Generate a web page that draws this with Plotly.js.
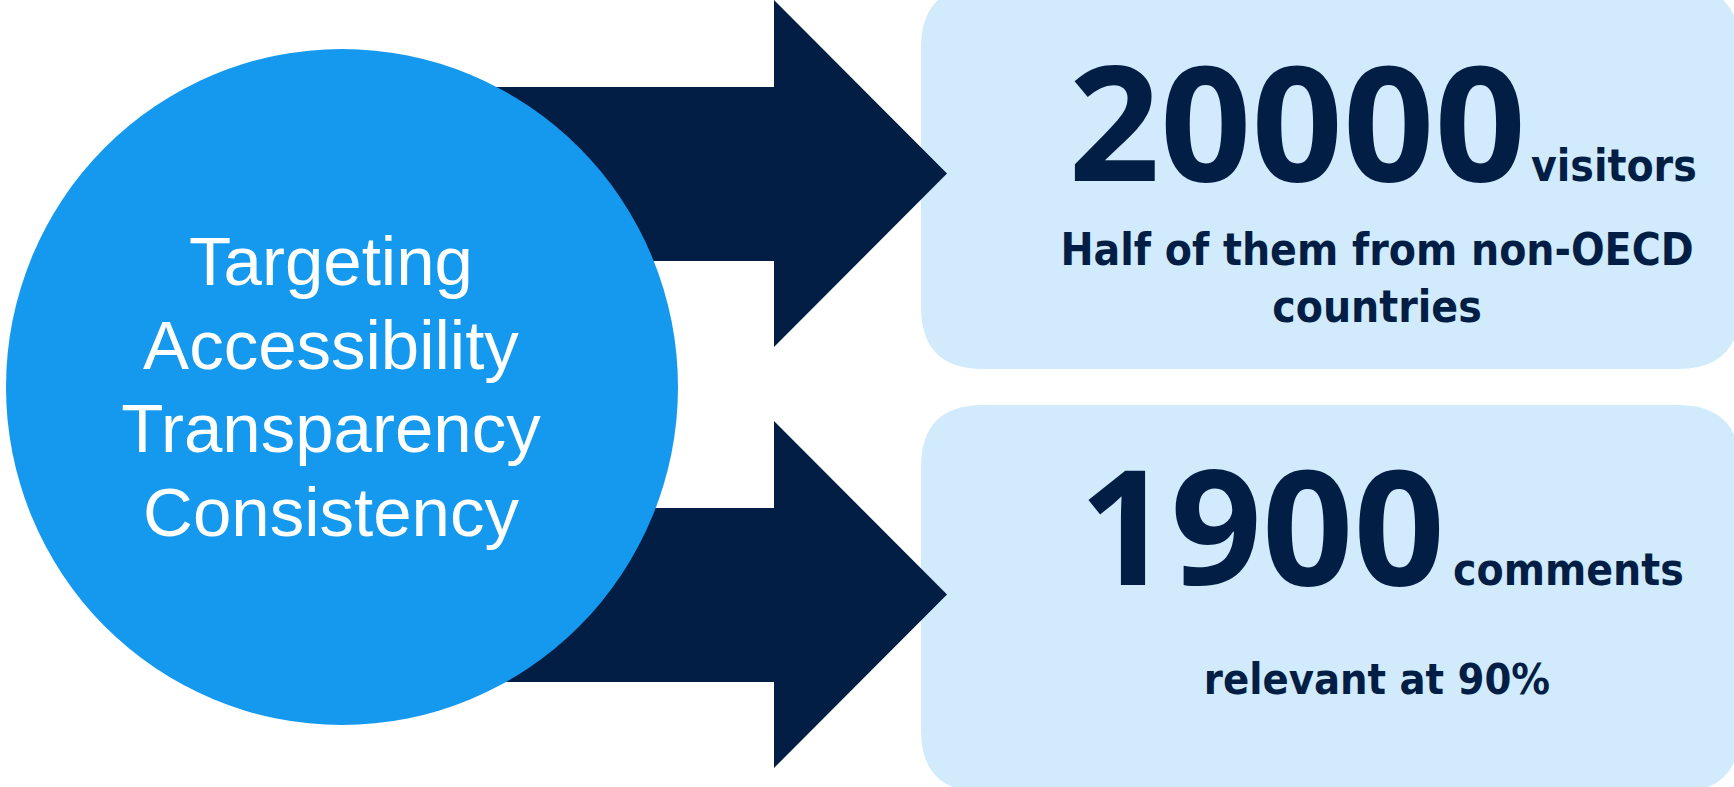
<!DOCTYPE html>
<html>
<head>
<meta charset="utf-8">
<script src="https://cdn.plot.ly/plotly-3.0.1.min.js"></script>
<style>
  html, body { margin: 0; padding: 0; background: #ffffff; overflow: hidden; }
  #chart { width: 1734px; height: 787px; }
</style>
</head>
<body>
<div id="chart"></div>
<script>
// ---- data ----
const pillars = ["Targeting", "Accessibility", "Transparency", "Consistency"];
const statValues = [20000, 1900];
const statUnits = ["visitors", "comments"];
const statNotes = [["Half of them from non-OECD", "countries"], ["relevant at 90%"]];

// ---- styling / layout (pixel space) ----
const W = 1734, H = 787;
const NAVY = "#021E44";
const BLUE = "#1599EE";
const PALE = "#D1EBFC";
const NUM_FONT = "Noto Sans, DejaVu Sans, sans-serif";
const STAT_FONT = "DejaVu Sans Condensed, DejaVu Sans, sans-serif";
const PILLAR_FONT = "Liberation Sans, Arial, sans-serif";

const pillarX = 331, pillarBase0 = 285, pillarPitch = 83.7, pillarSize = 69;
const rowTop = [0, 421];               // arrow head top per row
const statBase = [181, 585];
const numRight = [1526, 1445];
const unitLeft = [1531, 1453];
const noteX = 1377;
const noteBase = [[265, 322], [694]];
const numSize = 160, unitSize = 44, noteSize = [44, 43];

// baseline -> y for 'middle' textposition (baseline = y + 0.25*size)
const yFor = (base, size) => base - 0.25 * size;

const traces = [];

traces.push({
  type: "scatter", mode: "text", hoverinfo: "skip", cliponaxis: false, showlegend: false,
  x: pillars.map(() => pillarX),
  y: pillars.map((_, i) => yFor(pillarBase0 + i * pillarPitch, pillarSize)),
  text: pillars,
  textposition: "middle center",
  textfont: { family: PILLAR_FONT, size: pillarSize, color: "#ffffff" }
});

traces.push({
  type: "scatter", mode: "text", hoverinfo: "skip", cliponaxis: false, showlegend: false,
  x: numRight, y: statBase.map(b => yFor(b, numSize)),
  text: statValues.map(v => String(v)),
  textposition: "middle left",
  textfont: { family: NUM_FONT, size: numSize, color: NAVY, weight: "bold" }
});

traces.push({
  type: "scatter", mode: "text", hoverinfo: "skip", cliponaxis: false, showlegend: false,
  x: unitLeft, y: statBase.map(b => yFor(b, unitSize)),
  text: statUnits,
  textposition: "middle right",
  textfont: { family: STAT_FONT, size: unitSize, color: NAVY, weight: "bold" }
});

statNotes.forEach((lines, r) => {
  traces.push({
    type: "scatter", mode: "text", hoverinfo: "skip", cliponaxis: false, showlegend: false,
    x: lines.map(() => noteX),
    y: lines.map((_, k) => yFor(noteBase[r][k], noteSize[r])),
    text: lines,
    textposition: "middle center",
    textfont: { family: STAT_FONT, size: noteSize[r], color: NAVY, weight: "bold" }
  });
});

// ---- shapes ----
function roundRect(x0, y0, x1, y1, r) {
  return `M${x0 + r},${y0} L${x1 - r},${y0} Q${x1},${y0} ${x1},${y0 + r} ` +
         `L${x1},${y1 - r} Q${x1},${y1} ${x1 - r},${y1} L${x0 + r},${y1} ` +
         `Q${x0},${y1} ${x0},${y1 - r} L${x0},${y0 + r} Q${x0},${y0} ${x0 + r},${y0} Z`;
}
function arrow(top) {
  const headH = 347, shaftOff = 87, shaftH = 174;
  const xs = 420, xb = 774, xt = 947;
  return `M${xs},${top + shaftOff} L${xb},${top + shaftOff} L${xb},${top} ` +
         `L${xt},${top + headH / 2} L${xb},${top + headH} L${xb},${top + shaftOff + shaftH} ` +
         `L${xs},${top + shaftOff + shaftH} Z`;
}

const shapes = [
  { type: "path", layer: "below", path: roundRect(921, -14, 1740, 369, 62), fillcolor: PALE, line: { width: 0 } },
  { type: "path", layer: "below", path: roundRect(921, 405, 1740, 792, 62), fillcolor: PALE, line: { width: 0 } },
  { type: "path", layer: "below", path: arrow(rowTop[0]), fillcolor: NAVY, line: { width: 0 } },
  { type: "path", layer: "below", path: arrow(rowTop[1]), fillcolor: NAVY, line: { width: 0 } },
  { type: "circle", layer: "below", x0: 6, x1: 678, y0: 49, y1: 725, fillcolor: BLUE, line: { width: 0 } }
];

const layout = {
  width: W, height: H,
  margin: { l: 0, r: 0, t: 0, b: 0, pad: 0 },
  paper_bgcolor: "#ffffff", plot_bgcolor: "#ffffff",
  showlegend: false,
  xaxis: { range: [0, W], visible: false, fixedrange: true },
  yaxis: { range: [H, 0], visible: false, fixedrange: true },
  shapes: shapes
};

Plotly.newPlot("chart", traces, layout, { staticPlot: true, displayModeBar: false });
</script>
</body>
</html>
